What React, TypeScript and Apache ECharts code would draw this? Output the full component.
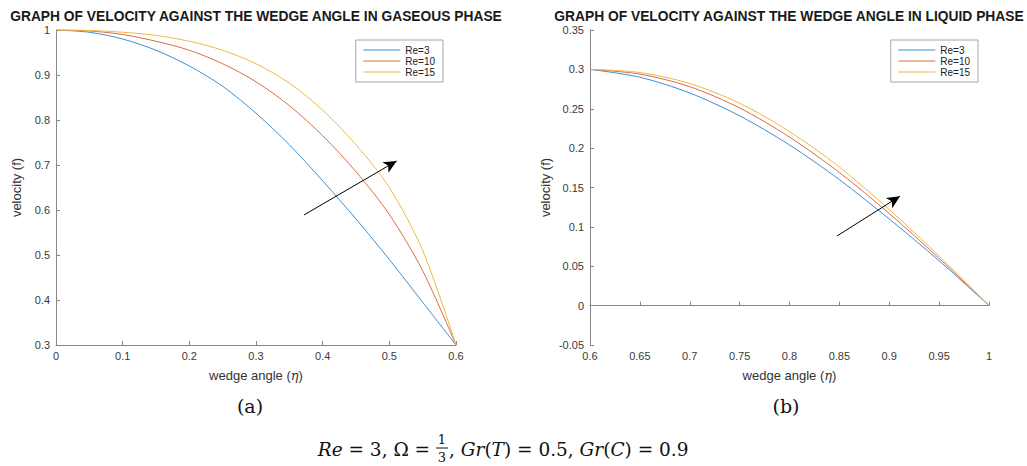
import React, { useEffect, useRef } from "react";
import * as echarts from "echarts";

// ---------- data ----------
const seriesNames = ["Re=3", "Re=10", "Re=15"];
const colors = ["#3d8fd1", "#dc6a44", "#ecb845"];

// gaseous phase (a)
const xGas = [0, 0.05, 0.1, 0.15, 0.2, 0.25, 0.3, 0.35, 0.4, 0.45, 0.5, 0.55, 0.6];
const gasRe3 = [1, 0.995, 0.98, 0.955, 0.92, 0.875, 0.815, 0.745, 0.665, 0.58, 0.49, 0.395, 0.3];
const gasRe10 = [1, 0.998, 0.99, 0.975, 0.955, 0.925, 0.885, 0.832, 0.765, 0.685, 0.59, 0.465, 0.3];
const gasRe15 = [1, 0.999, 0.995, 0.988, 0.975, 0.955, 0.925, 0.882, 0.822, 0.745, 0.65, 0.51, 0.3];
const gasArrow = [[0.372, 0.589], [0.511, 0.709]];

// liquid phase (b)
const xLiq = [0.6, 0.65, 0.7, 0.75, 0.8, 0.85, 0.9, 0.95, 1];
const liqRe3 = [0.3, 0.29, 0.27, 0.241, 0.204, 0.16, 0.11, 0.057, 0];
const liqRe10 = [0.3, 0.294, 0.278, 0.251, 0.214, 0.169, 0.117, 0.06, 0];
const liqRe15 = [0.3, 0.296, 0.282, 0.257, 0.221, 0.176, 0.122, 0.063, 0];
const liqArrow = [[0.8476, 0.0884], [0.9108, 0.139]];

const titles = [
  "GRAPH OF VELOCITY AGAINST THE WEDGE ANGLE IN GASEOUS PHASE",
  "GRAPH OF VELOCITY AGAINST THE WEDGE ANGLE IN LIQUID PHASE",
];

const SANS = "'Liberation Sans', Arial, sans-serif";
const SERIF = "'DejaVu Serif', serif";

function pairs(xs: number[], ys: number[]) {
  return xs.map((x, i) => [x, ys[i]]);
}

export default function App() {
  const ref = useRef<HTMLDivElement>(null);

  useEffect(() => {
    document.body.style.margin = "0";
    if (!ref.current) return;
    const chart = echarts.init(ref.current, undefined, { renderer: "svg" });

    const axisColor = "#868686";
    const labelColor = "#3a3a3a";

    const xAxisBase = (min: number, max: number, interval: number, idx: number) => ({
      type: "value",
      gridIndex: idx,
      min,
      max,
      interval,
      name: "{a|wedge angle (}{b|η}{a|)}",
      nameLocation: "middle",
      nameGap: 24,
      nameTextStyle: {
        rich: {
          a: { fontSize: 13, fontFamily: SANS, color: "#333" },
          b: { fontSize: 13, fontFamily: SERIF, fontStyle: "italic", color: "#333" },
        },
      },
      axisLine: { show: true, lineStyle: { color: axisColor, width: 1 } },
      axisTick: { show: true, inside: true, length: 4, lineStyle: { color: axisColor } },
      axisLabel: { color: labelColor, fontSize: 11, fontFamily: SANS, margin: 5 },
      splitLine: { show: false },
    });

    const yAxisBase = (min: number, max: number, interval: number, idx: number, gap: number) => ({
      type: "value",
      gridIndex: idx,
      min,
      max,
      interval,
      name: "velocity (f)",
      nameLocation: "middle",
      nameGap: gap,
      nameTextStyle: { fontSize: 13, fontFamily: SANS, color: "#333" },
      axisLine: { show: true, lineStyle: { color: axisColor, width: 1 } },
      axisTick: { show: true, inside: true, length: 4, lineStyle: { color: axisColor } },
      axisLabel: { color: labelColor, fontSize: 11, fontFamily: SANS, margin: 6 },
      splitLine: { show: false },
    });

    const mkSeries = (name: string, data: number[][], color: string, idx: number, arrow?: number[][]) => ({
      type: "line",
      name,
      xAxisIndex: idx,
      yAxisIndex: idx,
      data,
      smooth: 0.3,
      symbol: "none",
      lineStyle: { color, width: 1 },
      itemStyle: { color },
      markLine: arrow
        ? {
            silent: true,
            symbol: ["none", "arrow"],
            symbolSize: [9, 13],
            label: { show: false },
            lineStyle: { color: "#000", width: 1, type: "solid" },
            data: [[{ coord: arrow[0] }, { coord: arrow[1] }]],
          }
        : undefined,
    });

    const legendBase = (right: number) => ({
      orient: "vertical",
      right,
      top: 40,
      itemWidth: 37,
      itemHeight: 10,
      itemGap: 1,
      padding: [5, 8, 5, 7],
      borderColor: "#a6a6a6",
      borderWidth: 1,
      backgroundColor: "#fff",
      data: seriesNames,
      itemStyle: { opacity: 0 },
      lineStyle: { width: 1 },
      textStyle: { fontSize: 10, fontFamily: SANS, color: "#222" },
    });

    const option = {
      animation: false,
      backgroundColor: "#fff",
      title: [
        {
          text: titles[0],
          left: 256,
          top: 9,
          textAlign: "center",
          padding: 0,
          textStyle: { fontSize: 13.8, fontWeight: "bold", fontFamily: SANS, color: "#1a1a1a" },
        },
        {
          text: titles[1],
          left: 789,
          top: 9,
          textAlign: "center",
          padding: 0,
          textStyle: { fontSize: 13.8, fontWeight: "bold", fontFamily: SANS, color: "#1a1a1a" },
        },
      ],
      legend: [legendBase(584), legendBase(49)],
      grid: [
        { left: 56, top: 30, width: 400, height: 315, containLabel: false },
        { left: 590, top: 30, width: 399, height: 315, containLabel: false },
      ],
      xAxis: [xAxisBase(0, 0.6, 0.1, 0), xAxisBase(0.6, 1, 0.05, 1)],
      yAxis: [yAxisBase(0.3, 1, 0.1, 0, 33), yAxisBase(-0.05, 0.35, 0.05, 1, 38)],
      series: [
        mkSeries(seriesNames[0], pairs(xGas, gasRe3), colors[0], 0),
        mkSeries(seriesNames[1], pairs(xGas, gasRe10), colors[1], 0),
        mkSeries(seriesNames[2], pairs(xGas, gasRe15), colors[2], 0, gasArrow),
        mkSeries(seriesNames[0], pairs(xLiq, liqRe3), colors[0], 1),
        mkSeries(seriesNames[1], pairs(xLiq, liqRe10), colors[1], 1),
        mkSeries(seriesNames[2], pairs(xLiq, liqRe15), colors[2], 1, liqArrow),
      ],
      graphic: [
        {
          type: "text",
          x: 250,
          y: 406,
          style: { text: "(a)", font: `19px ${SERIF}`, fill: "#111", textAlign: "center", textVerticalAlign: "middle" },
        },
        {
          type: "text",
          x: 786,
          y: 406,
          style: { text: "(b)", font: `19px ${SERIF}`, fill: "#111", textAlign: "center", textVerticalAlign: "middle" },
        },
        {
          type: "text",
          x: 436,
          y: 449,
          style: {
            text: "{i|Re} = 3, Ω = ",
            textAlign: "right",
            textVerticalAlign: "middle",
            fill: "#111",
            font: `18.5px ${SERIF}`,
            rich: {
              i: { fontStyle: "italic", fontSize: 18.5, fontFamily: SERIF, fill: "#111" },
            },
          },
        },
        {
          type: "text",
          x: 442,
          y: 439,
          style: { text: "1", font: `13px ${SERIF}`, fill: "#111", textAlign: "center", textVerticalAlign: "middle" },
        },
        {
          type: "line",
          shape: { x1: 436, y1: 448, x2: 448, y2: 448 },
          style: { stroke: "#111", lineWidth: 1 },
        },
        {
          type: "text",
          x: 442,
          y: 457,
          style: { text: "3", font: `13px ${SERIF}`, fill: "#111", textAlign: "center", textVerticalAlign: "middle" },
        },
        {
          type: "text",
          x: 449,
          y: 449,
          style: {
            text: ", {i|Gr}({i|T}) = 0.5, {i|Gr}({i|C}) = 0.9",
            textAlign: "left",
            textVerticalAlign: "middle",
            fill: "#111",
            font: `18.5px ${SERIF}`,
            rich: {
              i: { fontStyle: "italic", fontSize: 18.5, fontFamily: SERIF, fill: "#111" },
            },
          },
        },
      ],
    };

    chart.setOption(option as any);
    return () => chart.dispose();
  }, []);

  return <div ref={ref} style={{ width: 1027, height: 466 }} />;
}
